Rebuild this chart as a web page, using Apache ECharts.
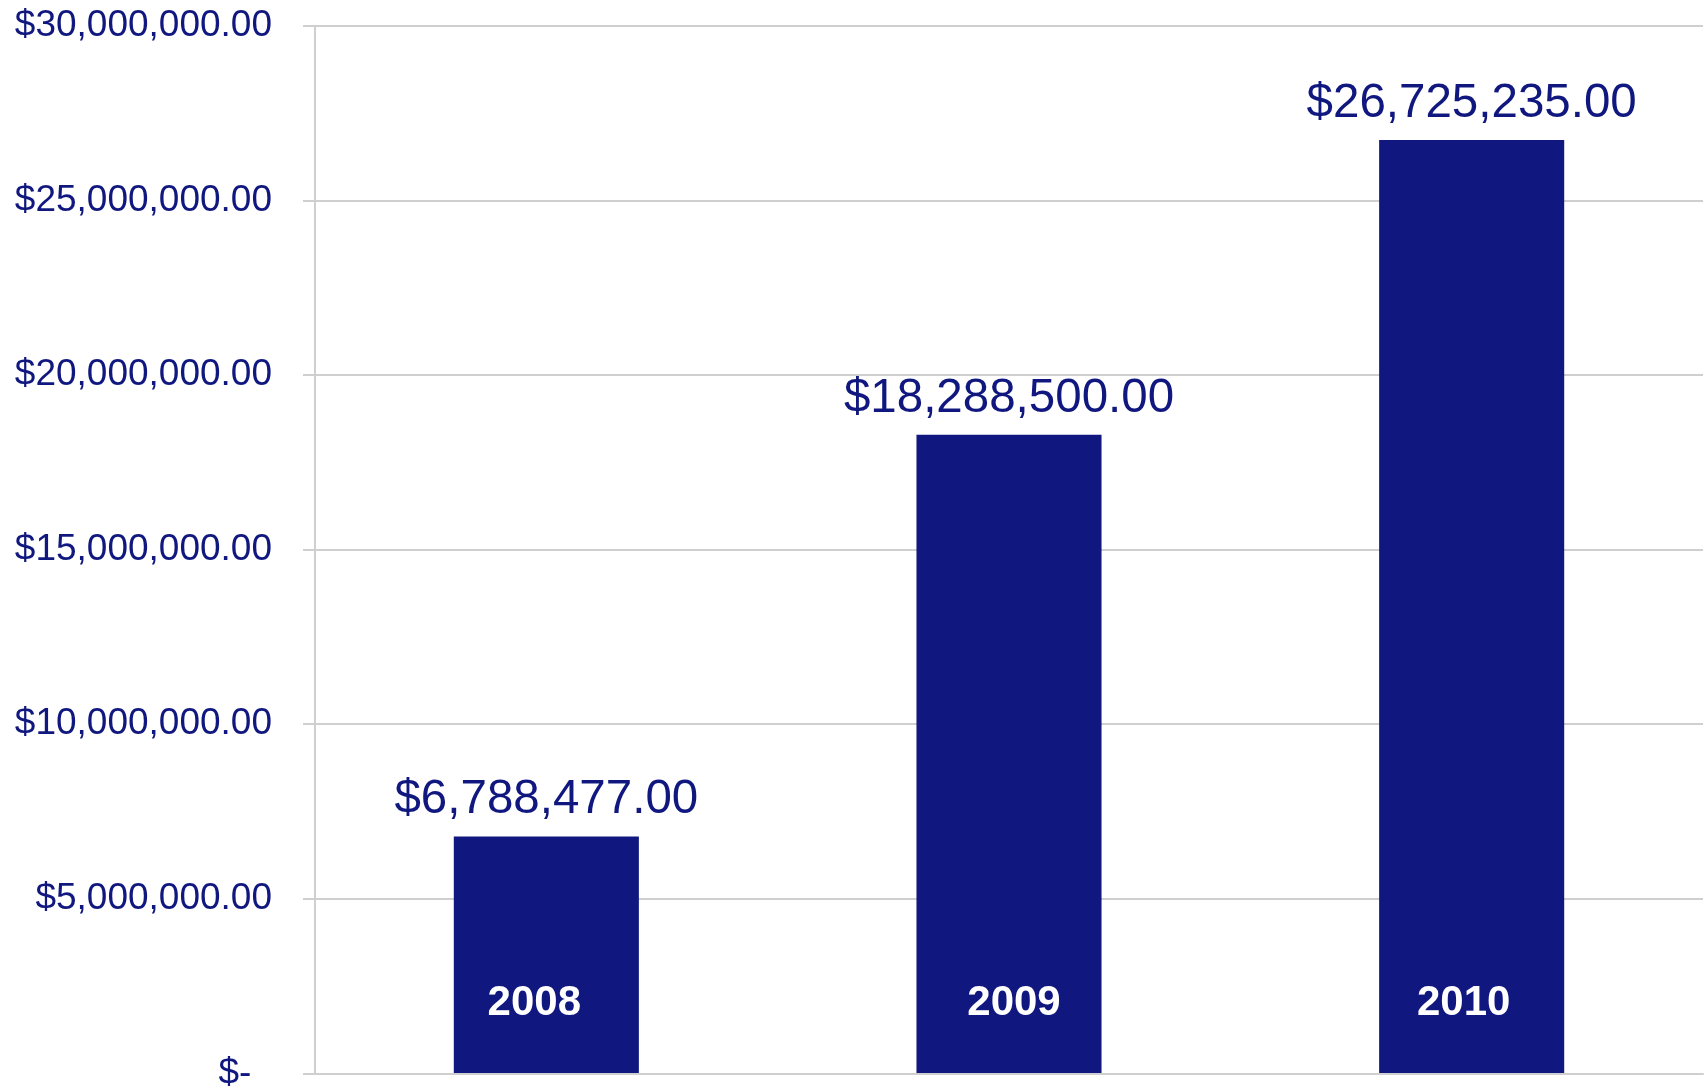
<!DOCTYPE html>
<html>
<head>
<meta charset="utf-8">
<script src="https://cdn.jsdelivr.net/npm/echarts@6/dist/echarts.min.js"></script>
<style>
html,body{margin:0;padding:0;background:#fff;}
#chart{width:1705px;height:1092px;}
</style>
</head>
<body>
<div id="chart"></div>
<script>
var categories = ['2008', '2009', '2010'];
var amounts = [6788477, 18288500, 26725235];
var yTickLabels = ['$-  ', '$5,000,000.00', '$10,000,000.00', '$15,000,000.00', '$20,000,000.00', '$25,000,000.00', '$30,000,000.00'];

var NAVY = '#10177E';
var GRID = '#cfcfcf';
var FONT = '"Liberation Sans", Arial, sans-serif';
// small horizontal nudges of the in-bar category labels (layout only)
var LABEL_PADS = [[0, 24, 0, 0], [0, 0, 0, 10], [0, 16, 0, 0]];

function money(n) {
  var s = n.toFixed(2);
  var parts = s.split('.');
  var i = parts[0].replace(/\B(?=(\d{3})+(?!\d))/g, ',');
  return '$' + i + '.' + parts[1];
}

var chart = echarts.init(document.getElementById('chart'));
chart.setOption({
  animation: false,
  backgroundColor: '#fff',
  grid: { left: 315, right: 2, top: 25.7, bottom: 16.3, containLabel: false },
  xAxis: {
    type: 'category',
    data: categories.map(function (c, i) {
      return { value: c, textStyle: { padding: LABEL_PADS[i], verticalAlign: 'middle' } };
    }),
    z: 10,
    axisLine: { show: true, lineStyle: { color: GRID, width: 2 } },
    axisTick: { show: false },
    axisLabel: {
      color: '#ffffff',
      fontWeight: 'bold',
      fontSize: 42,
      fontFamily: FONT,
      margin: -70,
      verticalAlign: 'middle'
    }
  },
  yAxis: {
    type: 'value',
    min: 0,
    max: 30000000,
    interval: 5000000,
    axisLine: { show: true, lineStyle: { color: GRID, width: 2 } },
    axisTick: { show: true, length: 12, lineStyle: { color: GRID, width: 2 } },
    splitLine: { show: true, lineStyle: { color: GRID, width: 2 } },
    axisLabel: {
      color: NAVY,
      fontSize: 37,
      fontFamily: FONT,
      margin: 43,
      formatter: function (v) { return yTickLabels[Math.round(v / 5000000)]; }
    }
  },
  series: [{
    type: 'bar',
    data: amounts,
    barWidth: '40%',
    itemStyle: { color: NAVY },
    label: {
      show: true,
      position: 'top',
      distance: 12,
      color: NAVY,
      fontSize: 47.5,
      fontFamily: FONT,
      formatter: function (p) { return money(p.value); }
    }
  }]
});
</script>
</body>
</html>
